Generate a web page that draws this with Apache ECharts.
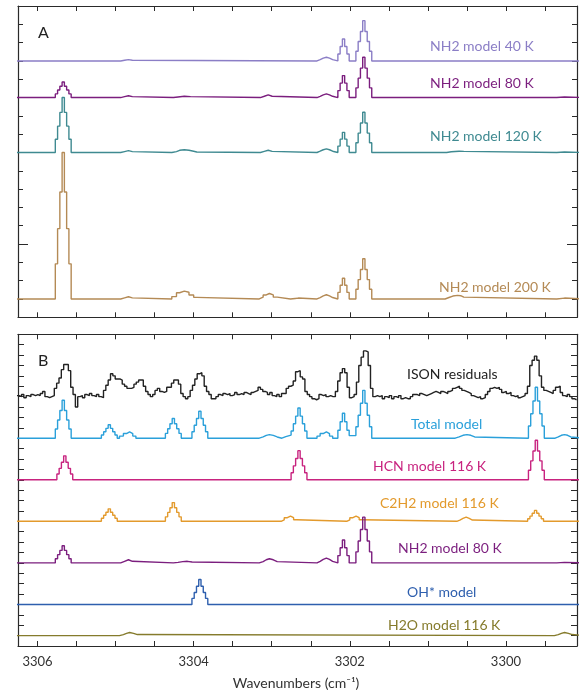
<!DOCTYPE html>
<html>
<head>
<meta charset="utf-8">
<script src="https://cdn.jsdelivr.net/npm/echarts@6.0.0/dist/echarts.min.js"></script>
<style>
  html, body { margin: 0; padding: 0; background: #fff; }
  #main { width: 585px; height: 692px; }
</style>
</head>
<body>
<div id="main"></div>
<script>
// tick positions / labels on the wavenumber axis
var xTicks = [3306, 3305.5, 3305, 3304.5, 3304, 3303.5, 3303, 3302.5, 3302, 3301.5, 3301, 3300.5, 3300, 3299.5];
var xTickLabels = [3306, 3304, 3302, 3300];

// panel A : NH2 models, [wavenumber, offset value] (step edges)
var nh2_40K = [
  [3306.3, 14],
  [3304.935, 14.035], [3304.885, 14.07], [3304.835, 14.035], [3304.785, 14],
  [3302.42, 14.07], [3302.38, 14.15], [3302.34, 14.2], [3302.30, 14.15], [3302.26, 14.07], [3302.22, 14],
  [3302.153, 14.38], [3302.124, 14.79], [3302.095, 15.2], [3302.066, 14.79], [3302.037, 14.38], [3302.008, 14],
  [3301.922, 14.53], [3301.893, 15.06], [3301.864, 15.61], [3301.835, 16.2], [3301.806, 15.61], [3301.777, 15.06], [3301.748, 14.53], [3301.719, 14],
  [3299.0, 14]
];
var nh2_80K_A = [
  [3306.3, 12],
  [3305.772, 12.2], [3305.743, 12.41], [3305.714, 12.62], [3305.685, 12.85], [3305.656, 12.62], [3305.627, 12.41], [3305.598, 12.2], [3305.569, 12],
  [3304.935, 12.05], [3304.885, 12.1], [3304.835, 12.05], [3304.785, 12],
  [3304.26, 12.03], [3304.2, 12.07], [3304.12, 12.05], [3304.04, 12],
  [3303.145, 12.07], [3303.095, 12.15], [3303.045, 12.07], [3302.995, 12],
  [3302.42, 12.07], [3302.38, 12.15], [3302.34, 12.2], [3302.30, 12.15], [3302.26, 12.07], [3302.22, 12],
  [3302.153, 12.38], [3302.124, 12.79], [3302.095, 13.2], [3302.066, 12.79], [3302.037, 12.38], [3302.008, 12],
  [3301.922, 12.53], [3301.893, 13.06], [3301.864, 13.61], [3301.835, 14.2], [3301.806, 13.61], [3301.777, 13.06], [3301.748, 12.53], [3301.719, 12],
  [3299.35, 12.03], [3299.25, 12],
  [3299.0, 12]
];
var nh2_120K = [
  [3306.3, 9],
  [3305.772, 9.72], [3305.743, 10.44], [3305.714, 11.19], [3305.685, 12.0], [3305.656, 11.19], [3305.627, 10.44], [3305.598, 9.72], [3305.569, 9],
  [3304.935, 9.05], [3304.885, 9.1], [3304.835, 9.05], [3304.785, 9],
  [3304.28, 9.05], [3304.22, 9.12], [3304.18, 9.15], [3304.12, 9.12], [3304.06, 9.07], [3304.0, 9.03], [3303.96, 9],
  [3303.145, 9.06], [3303.095, 9.12], [3303.045, 9.06], [3302.995, 9],
  [3302.42, 9.07], [3302.38, 9.15], [3302.34, 9.2], [3302.30, 9.15], [3302.26, 9.07], [3302.22, 9],
  [3302.153, 9.35], [3302.124, 9.73], [3302.095, 10.1], [3302.066, 9.73], [3302.037, 9.35], [3302.008, 9],
  [3301.922, 9.53], [3301.893, 10.06], [3301.864, 10.61], [3301.835, 11.2], [3301.806, 10.61], [3301.777, 10.06], [3301.748, 9.53], [3301.719, 9],
  [3300.76, 9.04], [3300.70, 9.07], [3300.6, 9.06], [3300.54, 9],
  [3299.35, 9.03], [3299.25, 9],
  [3299.0, 9]
];
var nh2_200K = [
  [3306.3, 1],
  [3305.772, 2.92], [3305.743, 4.84], [3305.714, 6.84], [3305.685, 9.0], [3305.656, 6.84], [3305.627, 4.84], [3305.598, 2.92], [3305.569, 1],
  [3304.935, 1.06], [3304.885, 1.12], [3304.835, 1.06], [3304.785, 1],
  [3304.28, 1.13], [3304.22, 1.34], [3304.18, 1.43], [3304.12, 1.37], [3304.06, 1.22], [3304.0, 1.09], [3303.96, 1],
  [3303.16, 1.1], [3303.11, 1.22], [3303.07, 1.3], [3303.03, 1.22], [3302.98, 1.1], [3302.93, 1],
  [3302.76, 1.03], [3302.70, 1.05], [3302.66, 1],
  [3302.42, 1.08], [3302.38, 1.17], [3302.34, 1.23], [3302.30, 1.17], [3302.26, 1.08], [3302.22, 1],
  [3302.153, 1.36], [3302.124, 1.75], [3302.095, 2.13], [3302.066, 1.75], [3302.037, 1.36], [3302.008, 1],
  [3301.922, 1.53], [3301.893, 2.06], [3301.864, 2.61], [3301.835, 3.2], [3301.806, 2.61], [3301.777, 2.06], [3301.748, 1.53], [3301.719, 1],
  [3300.78, 1.08], [3300.73, 1.16], [3300.68, 1.2], [3300.62, 1.18], [3300.58, 1.1], [3300.54, 1],
  [3299.35, 1.05], [3299.25, 1],
  [3299.0, 1]
];

// panel B : ISON residuals on the instrument channel grid
var isonStart = 3306.265;
var isonStep = 0.03;
var isonValues = [
  24.1, 24.0, 24.2, 23.9, 24.1,
  24.0, 24.2, 24.1, 24.2, 24.1, 24.3, 24.5,
  24.0, 23.9, 24.0, 24.1,
  24.8, 25.3, 25.8, 26.6, 27.1, 27.1, 26.5, 24.9, 24.2, 23.0,
  24.0, 24.1, 23.9, 24.2, 24.1, 24.3, 24.1, 24.0, 24.2, 24.0, 23.9,
  24.6, 25.1, 25.6, 26.2, 26.0, 25.7, 25.7, 25.6, 25.2, 25.0, 24.8, 24.8, 24.9, 25.2, 25.4, 25.6, 25.6, 25.0, 24.5, 24.2,
  24.0, 24.2, 24.6, 24.8, 24.5, 24.4, 24.5, 24.9, 24.9, 25.3, 25.6, 25.6, 25.2, 24.3, 24.0, 23.8, 24.0, 24.6, 25.1, 25.7, 26.2, 26.3,
  26.0, 25.0, 24.5, 24.2, 23.8, 23.8, 24.0, 24.2,
  24.1, 24.3, 24.2, 24.3, 24.1, 24.2, 24.4, 24.2, 24.3, 24.2, 24.4, 24.3, 24.2, 24.4, 24.5, 24.6,
  24.9, 24.7, 24.5, 24.4, 24.2, 24.4, 24.1, 24.0, 24.2, 24.0, 24.3, 24.3, 24.8, 25.0, 25.1, 25.5, 26.4, 26.5, 25.9, 25.7,
  24.5, 24.2, 24.0, 23.8, 23.7, 23.8, 24.2, 24.1, 24.2, 24.0, 24.1, 24.0, 24.0, 24.5, 25.5, 26.3, 26.7, 26.3, 24.9, 23.9,
  24.0, 24.2, 25.4, 27.0, 27.8, 28.4, 28.3, 27.0, 24.8, 24.0, 24.1, 24.0, 24.1, 23.8, 24.0,
  23.9, 24.1, 23.8, 24.0, 23.9, 24.1, 23.8, 23.9, 23.8, 23.8, 24.0, 24.2,
  24.2, 24.1, 24.3, 24.2, 24.1, 24.2, 24.3, 24.4, 24.5, 24.4, 24.3, 24.5, 24.4, 24.3, 24.5,
  24.6, 24.8, 24.9, 25.0, 24.8, 24.6, 24.5, 24.4, 24.3, 24.1, 24.0, 23.9, 24.0, 23.8, 23.9, 24.2, 24.5, 24.8, 24.9, 24.8,
  24.9, 24.7, 24.4, 24.5, 24.3, 24.4, 24.1, 24.0, 24.1, 23.9, 24.0, 24.1, 24.3, 25.0, 27.0, 27.5, 27.9, 27.5, 26.0, 24.9,
  24.6, 24.5, 24.4, 24.3, 24.6, 24.9, 25.0, 24.4, 24.1, 24.0, 24.2, 24.0, 23.8, 23.7
];

// panel B : models
var totalModel = [
  [3306.3, 20],
  [3305.772, 20.88], [3305.743, 21.75], [3305.714, 22.66], [3305.685, 23.65], [3305.656, 22.66], [3305.627, 21.75], [3305.598, 20.88], [3305.569, 20],
  [3305.182, 20.31], [3305.153, 20.62], [3305.124, 20.95], [3305.095, 21.3], [3305.066, 20.95], [3305.037, 20.62], [3305.008, 20.31], [3304.979, 20],
  [3304.95, 20.2], [3304.9, 20.45], [3304.86, 20.6], [3304.82, 20.45], [3304.78, 20.2], [3304.74, 20],
  [3304.362, 20.46], [3304.333, 20.91], [3304.304, 21.39], [3304.275, 21.9], [3304.246, 21.39], [3304.217, 20.91], [3304.188, 20.46], [3304.159, 20],
  [3304.022, 20.62], [3303.993, 21.25], [3303.964, 21.9], [3303.935, 22.6], [3303.906, 21.9], [3303.877, 21.25], [3303.848, 20.62], [3303.819, 20],
  [3303.16, 20.12], [3303.11, 20.27], [3303.07, 20.35], [3303.03, 20.27], [3302.98, 20.12], [3302.93, 20],
  [3302.87, 20.15], [3302.82, 20.3],
  [3302.752, 20.7], [3302.723, 21.39], [3302.694, 22.12], [3302.665, 22.9], [3302.636, 22.12], [3302.607, 21.39], [3302.578, 20.7], [3302.549, 20],
  [3302.42, 20.2], [3302.38, 20.45], [3302.34, 20.6], [3302.30, 20.45], [3302.26, 20.2], [3302.22, 20],
  [3302.153, 20.77], [3302.124, 21.58], [3302.095, 22.4], [3302.066, 21.58], [3302.037, 20.77], [3302.008, 20.25],
  [3301.922, 21.1], [3301.893, 22.21], [3301.864, 23.36], [3301.835, 24.6], [3301.806, 23.36], [3301.777, 22.21], [3301.748, 21.1], [3301.719, 20],
  [3300.65, 20.12], [3300.6, 20.28], [3300.55, 20.35], [3300.5, 20.28], [3300.45, 20.12], [3300.4, 20],
  [3299.712, 21.18], [3299.683, 22.35], [3299.654, 23.58], [3299.625, 24.9], [3299.596, 23.58], [3299.567, 22.35], [3299.538, 21.18], [3299.509, 20],
  [3299.37, 20.12], [3299.33, 20.28], [3299.29, 20.35], [3299.25, 20.28], [3299.21, 20.12], [3299.17, 20],
  [3299.0, 20]
];
var hcn116K = [
  [3306.3, 16],
  [3305.752, 16.55], [3305.723, 17.1], [3305.694, 17.68], [3305.665, 18.3], [3305.636, 17.68], [3305.607, 17.1], [3305.578, 16.55], [3305.549, 16],
  [3302.752, 16.67], [3302.723, 17.34], [3302.694, 18.04], [3302.665, 18.8], [3302.636, 18.04], [3302.607, 17.34], [3302.578, 16.67], [3302.549, 16],
  [3299.712, 16.91], [3299.683, 17.82], [3299.654, 18.77], [3299.625, 19.8], [3299.596, 18.77], [3299.567, 17.82], [3299.538, 16.91], [3299.509, 16],
  [3299.0, 16]
];
var c2h2116K = [
  [3306.3, 12],
  [3305.182, 12.29], [3305.153, 12.58], [3305.124, 12.88], [3305.095, 13.2], [3305.066, 12.88], [3305.037, 12.58], [3305.008, 12.29], [3304.979, 12],
  [3304.362, 12.43], [3304.333, 12.86], [3304.304, 13.31], [3304.275, 13.8], [3304.246, 13.31], [3304.217, 12.86], [3304.188, 12.43], [3304.159, 12],
  [3302.88, 12.15], [3302.84, 12.35], [3302.80, 12.5], [3302.76, 12.35], [3302.72, 12.15], [3302.68, 12],
  [3302.04, 12.15], [3302.0, 12.35], [3301.96, 12.5], [3301.92, 12.35], [3301.88, 12.15], [3301.84, 12],
  [3300.63, 12.12], [3300.59, 12.28], [3300.55, 12.4], [3300.51, 12.28], [3300.47, 12.12], [3300.43, 12],
  [3299.722, 12.25], [3299.693, 12.5], [3299.664, 12.77], [3299.635, 13.05], [3299.606, 12.77], [3299.577, 12.5], [3299.548, 12.25], [3299.519, 12],
  [3299.0, 12]
];
var nh2_80K_B = [
  [3306.3, 8],
  [3305.772, 8.4], [3305.743, 8.79], [3305.714, 9.2], [3305.685, 9.65], [3305.656, 9.2], [3305.627, 8.79], [3305.598, 8.4], [3305.569, 8],
  [3304.935, 8.15], [3304.885, 8.3], [3304.835, 8.15], [3304.785, 8],
  [3304.26, 8.05], [3304.2, 8.12], [3304.14, 8.15], [3304.08, 8.08], [3304.02, 8],
  [3303.16, 8.12], [3303.11, 8.3], [3303.07, 8.4], [3303.03, 8.3], [3302.98, 8.12], [3302.93, 8],
  [3302.42, 8.15], [3302.38, 8.33], [3302.34, 8.45], [3302.30, 8.33], [3302.26, 8.15], [3302.22, 8],
  [3302.153, 8.7], [3302.124, 9.45], [3302.095, 10.2], [3302.066, 9.45], [3302.037, 8.7], [3302.008, 8],
  [3301.922, 9.06], [3301.893, 10.11], [3301.864, 11.21], [3301.835, 12.4], [3301.806, 11.21], [3301.777, 10.11], [3301.748, 9.06], [3301.719, 8],
  [3299.35, 8.05], [3299.25, 8],
  [3299.0, 8]
];
var ohModel = [
  [3306.3, 4],
  [3304.022, 4.58], [3303.993, 5.15], [3303.964, 5.75], [3303.935, 6.4], [3303.906, 5.75], [3303.877, 5.15], [3303.848, 4.58], [3303.819, 4],
  [3299.0, 4]
];
var h2o116K = [
  [3306.3, 1],
  [3304.95, 1.1], [3304.9, 1.22], [3304.86, 1.3], [3304.82, 1.22], [3304.77, 1.1], [3304.72, 1],
  [3299.38, 1.1], [3299.33, 1.22], [3299.29, 1.3], [3299.25, 1.22], [3299.2, 1.1], [3299.15, 1],
  [3299.0, 1]
];

var namesA = ['NH2 model 40 K', 'NH2 model 80 K', 'NH2 model 120 K', 'NH2 model 200 K'];
var namesB = ['ISON residuals', 'Total model', 'HCN model 116 K', 'C2H2 model 116 K', 'NH2 model 80 K', 'OH* model', 'H2O model 116 K'];

// build the residual series on its channel grid
var isonData = isonValues.map(function (v, i) { return [isonStart - isonStep * i, v]; });
isonData.push([isonStart - isonStep * isonValues.length, isonValues[isonValues.length - 1]]);

var chart = echarts.init(document.getElementById('main'));
var FONT = 'Lato, "Open Sans", sans-serif';
var axisColor = '#2a2a2a';

function xAxisFor(grid, pos, labels) {
  return {
    type: 'value', gridIndex: grid, position: pos,
    min: 3299.09, max: 3306.25, inverse: true,
    axisLine: { show: true, onZero: false, lineStyle: { color: axisColor, width: 1.2 } },
    axisTick: { show: true, inside: true, length: 5, customValues: xTicks, lineStyle: { color: axisColor, width: 1 } },
    axisLabel: {
      show: labels, customValues: xTickLabels, color: '#333', fontSize: 13, fontFamily: FONT, margin: 9,
      formatter: function (v) { return String(v); }
    },
    splitLine: { show: false }
  };
}
function yAxisFor(grid, pos, max, len, custom) {
  var ax = {
    type: 'value', gridIndex: grid, position: pos,
    min: 0, max: max, interval: 1,
    axisLine: { show: true, onZero: false, lineStyle: { color: axisColor, width: 1.2 } },
    axisTick: { show: true, inside: true, length: len, lineStyle: { color: axisColor, width: 1 } },
    axisLabel: { show: false },
    splitLine: { show: false }
  };
  if (custom) {
    ax.axisLine.show = false;
    ax.axisTick.customValues = custom;
  }
  return ax;
}

function line(data, color, xi, yi) {
  return {
    type: 'line', data: data, step: 'end', xAxisIndex: xi, yAxisIndex: yi,
    showSymbol: false, silent: true, animation: false,
    lineStyle: { color: color, width: 1.4 }
  };
}

var colA = ['#8b7ec6', '#7b1e7e', '#3f8a91', '#b48a55'];
var colB = ['#222222', '#2aa0da', '#c8237f', '#e39a2c', '#7b1e7e', '#2e5fae', '#857b2c'];

function label(text, x, y, color) {
  return { type: 'text', x: x, y: y, silent: true,
    style: { text: text, fill: color, font: '14px ' + FONT, verticalAlign: 'middle', textVerticalAlign: 'middle' } };
}

var option = {
  backgroundColor: '#fff',
  animation: false,
  grid: [
    { left: 18, right: 8, top: 6, height: 311.3 },
    { left: 18, right: 8, top: 334.3, height: 311.7 }
  ],
  xAxis: [
    xAxisFor(0, 'bottom', false),
    xAxisFor(0, 'top', false),
    xAxisFor(1, 'bottom', true),
    xAxisFor(1, 'top', false)
  ],
  yAxis: [
    yAxisFor(0, 'left', 17, 5),
    yAxisFor(0, 'right', 17, 5),
    yAxisFor(1, 'left', 30, 6),
    yAxisFor(1, 'right', 30, 6),
    yAxisFor(0, 'left', 17, 10, [4]),
    yAxisFor(0, 'right', 17, 10, [4])
  ],
  series: [
    line(nh2_40K, colA[0], 0, 0),
    line(nh2_80K_A, colA[1], 0, 0),
    line(nh2_120K, colA[2], 0, 0),
    line(nh2_200K, colA[3], 0, 0),
    line(isonData, colB[0], 2, 2),
    line(totalModel, colB[1], 2, 2),
    line(hcn116K, colB[2], 2, 2),
    line(c2h2116K, colB[3], 2, 2),
    line(nh2_80K_B, colB[4], 2, 2),
    line(ohModel, colB[5], 2, 2),
    line(h2o116K, colB[6], 2, 2)
  ],
  graphic: [
    { type: 'text', x: 38, y: 33, silent: true, style: { text: 'A', fill: '#222', font: '16px ' + FONT, verticalAlign: 'middle', textVerticalAlign: 'middle' } },
    { type: 'text', x: 38, y: 361, silent: true, style: { text: 'B', fill: '#222', font: '16px ' + FONT, verticalAlign: 'middle', textVerticalAlign: 'middle' } },
    label(namesA[0], 430, 46, colA[0]),
    label(namesA[1], 430, 83, colA[1]),
    label(namesA[2], 430, 136, colA[2]),
    label(namesA[3], 439, 287, colA[3]),
    label(namesB[0], 407, 374, '#222'),
    label(namesB[1], 411, 424, colB[1]),
    label(namesB[2], 373, 466, colB[2]),
    label(namesB[3], 380, 503, colB[3]),
    label(namesB[4], 398, 548, colB[4]),
    label(namesB[5], 407, 592, colB[5]),
    label(namesB[6], 388, 625, colB[6]),
    { type: 'text', x: 296, y: 683, silent: true,
      style: { text: 'Wavenumbers (cm\u207B\u00B9)', fill: '#333', font: '14px ' + FONT, align: 'center', textAlign: 'center', verticalAlign: 'middle', textVerticalAlign: 'middle' } }
  ]
};
chart.setOption(option);
</script>
</body>
</html>
